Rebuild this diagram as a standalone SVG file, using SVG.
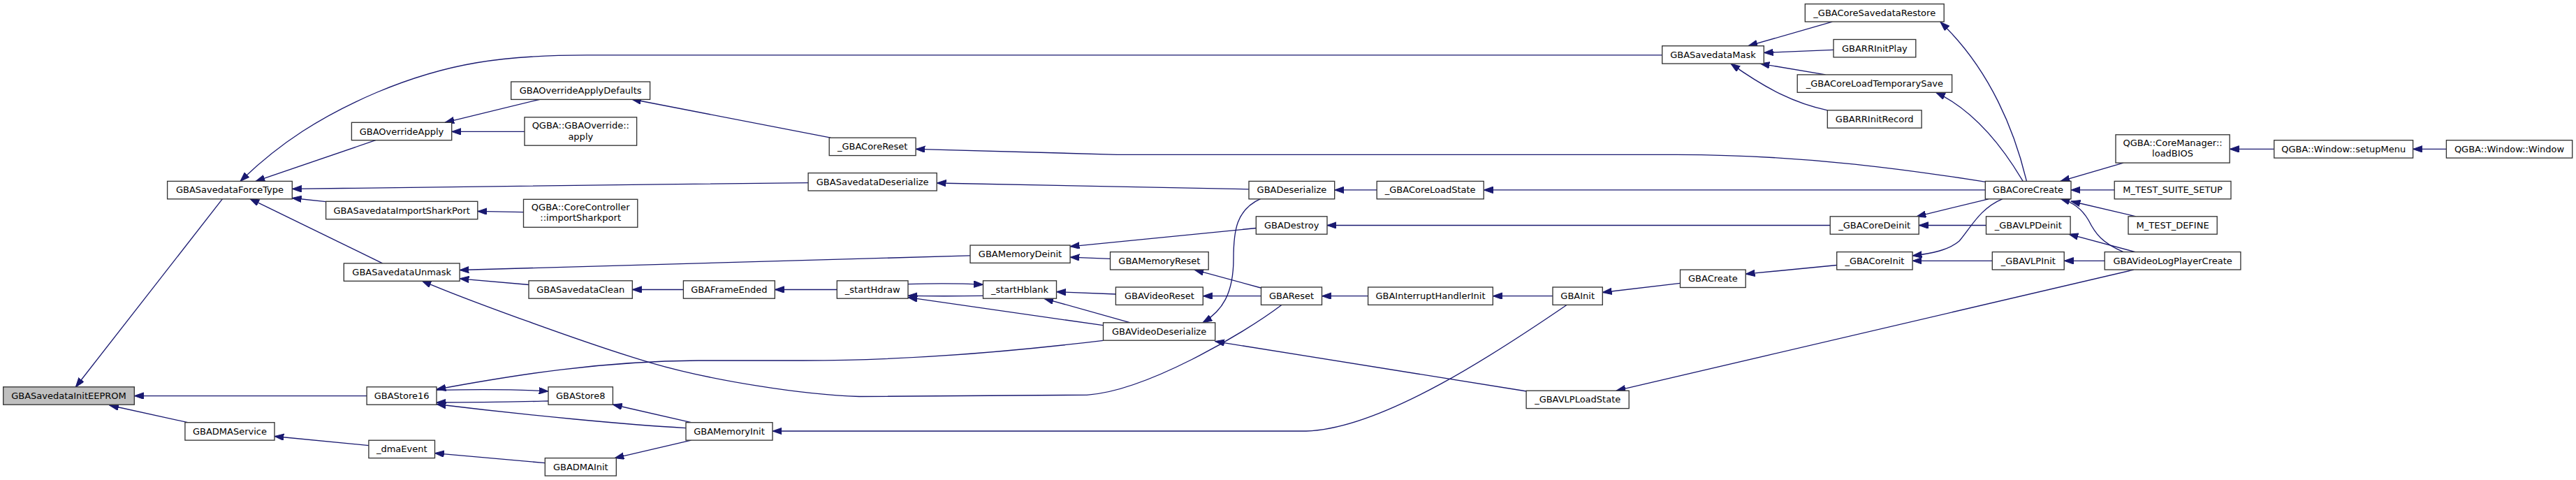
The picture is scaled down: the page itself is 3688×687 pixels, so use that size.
<svg xmlns="http://www.w3.org/2000/svg" width="3688" height="687" viewBox="0 0 3688 687">
<style>
.n rect{fill:#fff;stroke:#333;stroke-width:1.33}
.n text{font-family:"DejaVu Sans",sans-serif;font-size:13px;text-anchor:middle;fill:#000}
#n_eeprom rect{fill:#bfbfbf}
.e path{fill:none;stroke:#191970;stroke-width:1.33;marker-end:url(#a)}
</style>
<defs>
<marker id="a" markerUnits="userSpaceOnUse" markerWidth="14" markerHeight="10" refX="13.3" refY="4.7" orient="auto">
<path d="M0,0 L13.3,4.7 L0,9.4 z" fill="#191970" stroke="#191970" stroke-width="1"/>
</marker>
</defs>
<rect width="3688" height="687" fill="#fff"/>
<g id="edges" class="e">
<path d="M318.7,284.4 L108.3,554"/>
<path d="M525.1,566.6 L192.3,566.6"/>
<path d="M268.9,604.7 L156.7,580"/>
<path d="M527.9,637.6 L393,624.5"/>
<path d="M537.8,200.7 L366,259.4"/>
<path d="M2379.7,78.9 L840,78.9 C720,79 640,90 540,132 C460,166 400,205 344,259.4"/>
<path d="M1157.1,261.6 C900,264 600,269 418.3,270.4"/>
<path d="M466.6,288.6 L418.3,283.5"/>
<path d="M547.6,376.9 L357.8,284.4"/>
<path d="M751,188.4 L646.7,188.4"/>
<path d="M774,142 L637,175.3"/>
<path d="M1189.2,197.2 L904.5,142"/>
<path d="M749.5,303.7 L683.8,302.4"/>
<path d="M757,407.5 L658.1,398.8"/>
<path d="M1389,365.9 L658.1,386.5"/>
<path d="M1834.8,436.5 C1780,478 1640,560 1556,565.3 L1230,567.5 C1150,565 1020,545 932,519.3 C844,493.6 661,426.6 604,401.8"/>
<path d="M978.4,414.5 L905.3,414.5"/>
<path d="M1198.3,414.5 L1109.3,414.5"/>
<path d="M1407.5,423.3 C1360,424 1340,424 1300,423.3"/>
<path d="M1300,406.7 C1340,405.5 1370,405.5 1407.5,407.3"/>
<path d="M1579.3,465.7 L1300,425.7"/>
<path d="M1618.3,461.8 L1495,427.3"/>
<path d="M1597.4,421 L1512.5,417.7"/>
<path d="M1589.5,370.3 L1532.1,368.1"/>
<path d="M1798.3,326.5 L1532.1,352.8"/>
<path d="M1805,412 L1710,386.1"/>
<path d="M1805.5,423.7 L1722.3,423.7"/>
<path d="M1805,284.4 C1770,300 1766,330 1766,370 C1766,420 1750,445 1722,461.8"/>
<path d="M1788,270.8 L1341.2,262"/>
<path d="M2185.5,560 L1739.7,488.6"/>
<path d="M1579.5,487.3 C1450,503 1300,516 1150,516 L1000,516 C860,517 740,536 625,557.3"/>
<path d="M625,558.3 C700,557 740,557 785,560"/>
<path d="M785,574 C740,575 700,576 625,576"/>
<path d="M982,612.6 C900,608 760,595 625,578.5"/>
<path d="M989.5,604.7 L877.3,579"/>
<path d="M780.3,662.6 L622.5,648.6"/>
<path d="M989.5,630.2 L880,655.6"/>
<path d="M2243,436.5 C2150,500 1980,614 1870,617 L1106,617"/>
<path d="M1958.6,423.7 L1892.5,423.7"/>
<path d="M2223,423.7 L2137.3,423.7"/>
<path d="M2405.5,405.3 L2294.3,418.5"/>
<path d="M1971.2,271.9 L1910.7,271.9"/>
<path d="M2842.3,271.9 L2124.2,271.9"/>
<path d="M2620.2,322.5 L1900,322.5"/>
<path d="M2842.9,260.3 C2750,246 2600,222 2400,221.3 L1600,221.3 C1500,219 1400,216 1311.1,213.4"/>
<path d="M2623.4,31.1 L2503,65.7"/>
<path d="M2625,71.4 L2525.3,75.4"/>
<path d="M2613.5,106.9 L2520,91.1"/>
<path d="M2616.3,157.8 C2570,148 2530,128 2478,91.1"/>
<path d="M2901.4,259.4 C2885,190 2850,100 2778,31.5"/>
<path d="M2896.2,259.4 C2870,215 2830,160 2771.7,132.3"/>
<path d="M2843.5,322.5 L2747.2,322.5"/>
<path d="M2846.8,284.8 L2744,309.8"/>
<path d="M2866.6,284.8 C2835,298 2822,325 2805,345 C2790,358 2765,363 2738.1,366"/>
<path d="M2852.3,373.3 L2738.1,373.3"/>
<path d="M2629.7,379.5 L2499.2,392.2"/>
<path d="M3013.2,373.3 L2955.2,373.3"/>
<path d="M3057,360.6 L2962,335.2"/>
<path d="M3040,360.6 C3010,348 3000,335 2990,315 C2980,298 2968,290 2950,284.4"/>
<path d="M3058,309.8 L2965,288"/>
<path d="M3027.2,271.9 L2965,271.9"/>
<path d="M3040,233.1 L2950,259.4"/>
<path d="M3255.8,213.4 L3192.2,213.4"/>
<path d="M3502.4,213.4 L3454.6,213.4"/>
<path d="M3054.8,386.1 L2314,559.2"/>
</g>
<g id="n_eeprom" class="n"><rect x="4.7" y="553.8" width="187.6" height="25.4"/><text x="98.5" y="571">GBASavedataInitEEPROM</text></g>
<g id="n_forcetype" class="n"><rect x="239.6" y="259.4" width="178.7" height="25.4"/><text x="329" y="276.4">GBASavedataForceType</text></g>
<g id="n_dmaservice" class="n"><rect x="264.9" y="604.7" width="128.1" height="25.4"/><text x="329" y="621.9">GBADMAService</text></g>
<g id="n_overrideapply" class="n"><rect x="503.4" y="175.3" width="143.3" height="25.4"/><text x="575" y="192.5">GBAOverrideApply</text></g>
<g id="n_importsharkport" class="n"><rect x="466.6" y="288.3" width="217.2" height="25.4"/><text x="575.2" y="305.5">GBASavedataImportSharkPort</text></g>
<g id="n_unmask" class="n"><rect x="492.3" y="376.9" width="165.8" height="25.4"/><text x="575.2" y="393.9">GBASavedataUnmask</text></g>
<g id="n_store16" class="n"><rect x="525.1" y="553.8" width="99.9" height="25.4"/><text x="575.1" y="571">GBAStore16</text></g>
<g id="n_dmaevent" class="n"><rect x="527.9" y="630.2" width="94.6" height="25.4"/><text x="575.2" y="647.1">_dmaEvent</text></g>
<g id="n_overridedefaults" class="n"><rect x="731.7" y="117" width="198.9" height="25.4"/><text x="831.15" y="134">GBAOverrideApplyDefaults</text></g>
<g id="n_gbaoverride_apply" class="n"><rect x="751" y="167.8" width="160.6" height="40.4"/><text x="831.3" y="184.3">QGBA::GBAOverride::</text><text x="831.3" y="199.5">apply</text></g>
<g id="n_cc_importsharkport" class="n"><rect x="749.5" y="285.3" width="163.3" height="40"/><text x="831.2" y="301">QGBA::CoreController</text><text x="831.2" y="316">::importSharkport</text></g>
<g id="n_savedataclean" class="n"><rect x="757" y="401.8" width="148.3" height="25.4"/><text x="831.2" y="419">GBASavedataClean</text></g>
<g id="n_store8" class="n"><rect x="785" y="553.8" width="92.4" height="25.4"/><text x="831.2" y="571">GBAStore8</text></g>
<g id="n_dmainit" class="n"><rect x="780.3" y="655.6" width="102" height="25.4"/><text x="831.3" y="672.5">GBADMAInit</text></g>
<g id="n_frameended" class="n"><rect x="978.4" y="401.8" width="130.9" height="25.4"/><text x="1043.9" y="419">GBAFrameEnded</text></g>
<g id="n_memoryinit" class="n"><rect x="982" y="604.7" width="124" height="25.4"/><text x="1044" y="621.9">GBAMemoryInit</text></g>
<g id="n_corereset" class="n"><rect x="1187.2" y="197.2" width="123.9" height="25.4"/><text x="1249.2" y="214.2">_GBACoreReset</text></g>
<g id="n_savedatadeserialize" class="n"><rect x="1157.1" y="247.6" width="184.1" height="25.4"/><text x="1249.2" y="264.6">GBASavedataDeserialize</text></g>
<g id="n_starthdraw" class="n"><rect x="1198.3" y="401.8" width="101.7" height="25.4"/><text x="1249.2" y="419">_startHdraw</text></g>
<g id="n_memorydeinit" class="n"><rect x="1389" y="351" width="143.1" height="25.4"/><text x="1460.5" y="368.2">GBAMemoryDeinit</text></g>
<g id="n_starthblank" class="n"><rect x="1407.5" y="401.8" width="105" height="25.4"/><text x="1460" y="419">_startHblank</text></g>
<g id="n_memoryreset" class="n"><rect x="1589.5" y="360.6" width="140.7" height="25.4"/><text x="1659.9" y="377.8">GBAMemoryReset</text></g>
<g id="n_videoreset" class="n"><rect x="1597.4" y="411" width="124.9" height="25.4"/><text x="1659.9" y="428.2">GBAVideoReset</text></g>
<g id="n_videodeserialize" class="n"><rect x="1579.5" y="461.8" width="160.2" height="25.4"/><text x="1659.6" y="478.9">GBAVideoDeserialize</text></g>
<g id="n_deserialize" class="n"><rect x="1788" y="259.4" width="122.7" height="25.4"/><text x="1849.4" y="276.4">GBADeserialize</text></g>
<g id="n_destroy" class="n"><rect x="1798.3" y="309.8" width="101.7" height="25.4"/><text x="1849.2" y="327">GBADestroy</text></g>
<g id="n_reset" class="n"><rect x="1805.5" y="411" width="87" height="25.4"/><text x="1849" y="428.2">GBAReset</text></g>
<g id="n_loadstate" class="n"><rect x="1971.2" y="259.4" width="153" height="25.4"/><text x="2047.7" y="276.4">_GBACoreLoadState</text></g>
<g id="n_irqinit" class="n"><rect x="1958.6" y="411" width="178.7" height="25.4"/><text x="2048" y="428.2">GBAInterruptHandlerInit</text></g>
<g id="n_gbainit" class="n"><rect x="2223" y="411" width="71.3" height="25.4"/><text x="2258.7" y="428.2">GBAInit</text></g>
<g id="n_vlploadstate" class="n"><rect x="2185.1" y="559.2" width="147.1" height="25.4"/><text x="2258.7" y="576.4">_GBAVLPLoadState</text></g>
<g id="n_savedatamask" class="n"><rect x="2379.7" y="65.7" width="145.6" height="25.4"/><text x="2452.5" y="82.9">GBASavedataMask</text></g>
<g id="n_gbacreate" class="n"><rect x="2405.5" y="386.1" width="93.7" height="25.4"/><text x="2452.4" y="403">GBACreate</text></g>
<g id="n_savedatarestore" class="n"><rect x="2584.3" y="5.7" width="198.9" height="25.4"/><text x="2683.75" y="22.9">_GBACoreSavedataRestore</text></g>
<g id="n_rrinitplay" class="n"><rect x="2625" y="56.5" width="117.8" height="25.4"/><text x="2683.9" y="73.7">GBARRInitPlay</text></g>
<g id="n_loadtempsave" class="n"><rect x="2573.2" y="106.9" width="221.4" height="25.4"/><text x="2683.9" y="124.1">_GBACoreLoadTemporarySave</text></g>
<g id="n_rrinitrecord" class="n"><rect x="2616.3" y="157.8" width="134.8" height="25.4"/><text x="2683.7" y="175">GBARRInitRecord</text></g>
<g id="n_coredeinit" class="n"><rect x="2620.2" y="309.8" width="127" height="25.4"/><text x="2683.7" y="327">_GBACoreDeinit</text></g>
<g id="n_coreinit" class="n"><rect x="2629.7" y="360.6" width="108.4" height="25.4"/><text x="2683.9" y="377.8">_GBACoreInit</text></g>
<g id="n_corecreate" class="n"><rect x="2842.3" y="259.4" width="122.7" height="25.4"/><text x="2903.6" y="276.4">GBACoreCreate</text></g>
<g id="n_vlpdeinit" class="n"><rect x="2843.5" y="309.8" width="120.6" height="25.4"/><text x="2903.8" y="327">_GBAVLPDeinit</text></g>
<g id="n_vlpinit" class="n"><rect x="2852.3" y="360.6" width="102.9" height="25.4"/><text x="2903.8" y="377.8">_GBAVLPInit</text></g>
<g id="n_loadbios" class="n"><rect x="3029" y="192.8" width="163.2" height="40.3"/><text x="3110.6" y="209">QGBA::CoreManager::</text><text x="3110.6" y="224">loadBIOS</text></g>
<g id="n_suitesetup" class="n"><rect x="3027.2" y="259.4" width="166.8" height="25.4"/><text x="3110.6" y="276.4">M_TEST_SUITE_SETUP</text></g>
<g id="n_testdefine" class="n"><rect x="3047" y="309.8" width="127.2" height="25.4"/><text x="3110.6" y="327">M_TEST_DEFINE</text></g>
<g id="n_vlpcreate" class="n"><rect x="3013.2" y="360.6" width="194.7" height="25.4"/><text x="3110.6" y="377.8">GBAVideoLogPlayerCreate</text></g>
<g id="n_setupmenu" class="n"><rect x="3255.8" y="200.7" width="198.8" height="25.4"/><text x="3355.2" y="217.9">QGBA::Window::setupMenu</text></g>
<g id="n_window" class="n"><rect x="3502.4" y="200.7" width="180.3" height="25.4"/><text x="3592.5" y="217.9">QGBA::Window::Window</text></g>
</svg>
